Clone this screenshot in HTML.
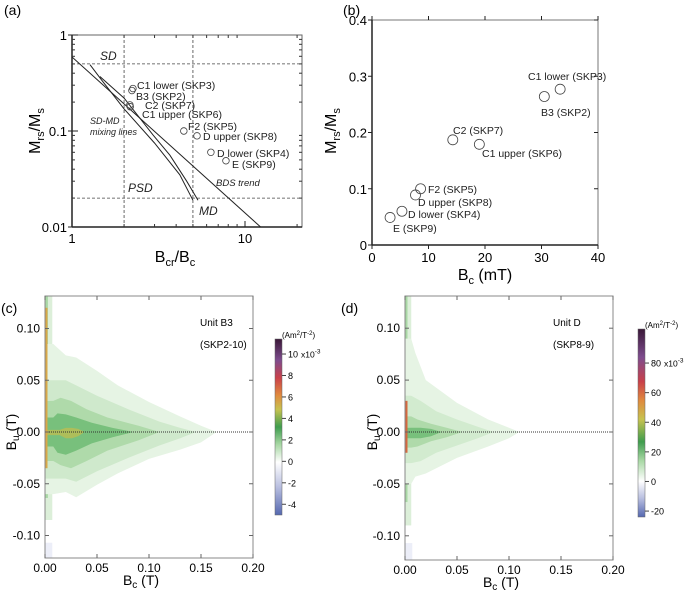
<!DOCTYPE html>
<html><head><meta charset="utf-8">
<style>
html,body{margin:0;padding:0;background:#fff;}
svg{display:block;font-family:"Liberation Sans",sans-serif;}
</style></head>
<body>
<svg id="fig" width="685" height="592" viewBox="0 0 685 592">
<defs>
<linearGradient id="cbarc" x1="0" y1="1" x2="0" y2="0">
<stop offset="0" stop-color="#5568b0"/>
<stop offset="0.16" stop-color="#b9bfe0"/>
<stop offset="0.30" stop-color="#ffffff"/>
<stop offset="0.40" stop-color="#a8d8a4"/>
<stop offset="0.50" stop-color="#3f9d4e"/>
<stop offset="0.60" stop-color="#c7c24f"/>
<stop offset="0.68" stop-color="#e08a3e"/>
<stop offset="0.78" stop-color="#c9404a"/>
<stop offset="0.88" stop-color="#7e4c8e"/>
<stop offset="1" stop-color="#3a1838"/>
</linearGradient>
<linearGradient id="cbard" x1="0" y1="1" x2="0" y2="0">
<stop offset="0" stop-color="#5568b0"/>
<stop offset="0.10" stop-color="#b9bfe0"/>
<stop offset="0.19" stop-color="#ffffff"/>
<stop offset="0.30" stop-color="#a8d8a4"/>
<stop offset="0.40" stop-color="#3f9d4e"/>
<stop offset="0.52" stop-color="#c7c24f"/>
<stop offset="0.62" stop-color="#e08a3e"/>
<stop offset="0.72" stop-color="#c9404a"/>
<stop offset="0.85" stop-color="#7e4c8e"/>
<stop offset="1" stop-color="#3a1838"/>
</linearGradient>
</defs>
<g id="pa"></g><g id="pb"></g><g id="pc"></g><g id="pd"></g>
</svg>
<script>
// ---------- data ----------
const sampleNames = ["C1 lower (SKP3)","B3 (SKP2)","C2 (SKP7)","C1 upper (SKP6)","F2 (SKP5)","D upper (SKP8)","D lower (SKP4)","E (SKP9)"];
const bcrBc = [2.25,2.22,2.16,2.17,4.43,5.28,6.35,7.76];
const mrsMs = [0.277,0.264,0.187,0.179,0.100,0.089,0.060,0.049];
const bcMt = [33.3,30.5,14.3,19.0,8.6,7.7,5.3,3.2];
const bdsX = [1.0,12.3];
const bdsY = [0.59,0.01];
const mix1X = [1.27,1.5,2.0,3.0,4.2,5.0];
const mix1Y = [0.49,0.33,0.17,0.075,0.035,0.019];
const mix2X = [1.45,2.0,2.94,3.68,4.6,5.35];
const mix2Y = [0.37,0.22,0.091,0.056,0.03,0.019];
const xTicksA = [1,10];
const yTicksA = [1,0.1,0.01];
const xTicksB = [0,10,20,30,40];
const yTicksB = [0,0.1,0.2,0.3,0.4];
const forcTicksX = [0,0.05,0.10,0.15,0.20];
const forcTicksY = [-0.10,-0.05,0,0.05,0.10];
// FORC contour bands (c)
const cBc = [[0.008,0.02,0.03,0.05,0.07,0.1,0.13,0.15,0.165],[0.008,0.02,0.03,0.05,0.08,0.11,0.13,0.145],[0.008,0.015,0.025,0.04,0.06,0.09,0.11],[0.008,0.012,0.02,0.03,0.045,0.065,0.085],[0.014,0.02,0.026,0.032,0.038]];
const cUp = [[0.085,0.074,0.072,0.059,0.045,0.029,0.015,0.006,0],[0.05,0.05,0.045,0.035,0.022,0.01,0.004,0],[0.03,0.033,0.03,0.022,0.014,0.006,0],[0.014,0.018,0.017,0.014,0.009,0.004,0],[0.002,0.004,0.004,0.003,0]];
const cLo = [[-0.06,-0.058,-0.063,-0.051,-0.04,-0.026,-0.017,-0.01,0],[-0.045,-0.045,-0.048,-0.038,-0.025,-0.013,-0.006,0],[-0.028,-0.032,-0.035,-0.028,-0.018,-0.008,0],[-0.014,-0.02,-0.022,-0.018,-0.011,-0.005,0],[-0.003,-0.006,-0.006,-0.004,0]];
const cLevels = [0.6,1.3,2.0,3.0,4.6];
// FORC contour bands (d)
const dBc = [[0.006,0.01,0.02,0.05,0.08,0.1,0.11],[0.006,0.015,0.03,0.05,0.07,0.085],[0.006,0.012,0.025,0.04,0.055],[0.006,0.015,0.025,0.035]];
const dUp = [[0.09,0.076,0.05,0.028,0.012,0.004,0],[0.035,0.03,0.02,0.012,0.005,0],[0.015,0.012,0.008,0.004,0],[0.004,0.004,0.003,0]];
const dLo = [[-0.05,-0.043,-0.04,-0.025,-0.014,-0.006,0],[-0.03,-0.028,-0.02,-0.013,-0.006,0],[-0.015,-0.014,-0.009,-0.005,0],[-0.006,-0.006,-0.004,0]];
const dLevels = [3,6,10,15];
const cbarTicksC = [-4,-2,0,2,4,6,8,10];
const cbarTicksD = [-20,0,20,40,60,80];

// ---------- helpers ----------
const NS="http://www.w3.org/2000/svg";
function mk(parent,tag,attrs,text){const e=document.createElementNS(NS,tag);for(const k in attrs)e.setAttribute(k,attrs[k]);if(text!==undefined)e.textContent=text;parent.appendChild(e);return e;}
function colC(v){
  const stops=[[0,[255,255,255]],[0.6,[230,244,228]],[1.3,[207,233,204]],[2,[175,218,170]],[3,[120,192,124]],[4,[95,175,90]],[4.8,[200,195,90]],[6,[224,138,62]]];
  for(let i=1;i<stops.length;i++){if(v<=stops[i][0]){const a=stops[i-1],b=stops[i],t=(v-a[0])/(b[0]-a[0]);return "rgb("+a[1].map((c,j)=>Math.round(c+(b[1][j]-c)*t)).join(",")+")";}}
  return "rgb(224,138,62)";
}

// ---------- panel (a) ----------
(function(){
const g=document.getElementById('pa');
const L=72,R=302,T=35,B=227;
const xa=v=>L+173*Math.log10(v), ya=v=>T-96*Math.log10(v);
let e=mk(g,'text',{x:4,y:15,'font-size':14},'(a)');
[[xa(2),T,xa(2),B],[xa(5),T,xa(5),B],[L,ya(0.5),R,ya(0.5)],[L,ya(0.02),R,ya(0.02)]].forEach(p=>{
 e=mk(g,'line',{x1:p[0],y1:p[1],x2:p[2],y2:p[3],stroke:'#444','stroke-width':0.8,'stroke-dasharray':'3,2'});
 });
e=mk(g,'rect',{x:L,y:T,width:R-L,height:B-T,fill:'none',stroke:'#666','stroke-width':1});

mk(g,'line',{x1:L,y1:T,x2:L,y2:B,stroke:'#222','stroke-width':1.5});
mk(g,'line',{x1:L,y1:B,x2:R,y2:B,stroke:'#222','stroke-width':1.5});
[2,3,4,5,6,7,8,9,20].forEach(v=>{mk(g,'line',{x1:xa(v),y1:B,x2:xa(v),y2:B-3,stroke:'#333'});mk(g,'line',{x1:xa(v),y1:T,x2:xa(v),y2:T+3,stroke:'#333'});});
[0.02,0.03,0.04,0.05,0.06,0.07,0.08,0.09,0.2,0.3,0.4,0.5,0.6,0.7,0.8,0.9].forEach(v=>{mk(g,'line',{x1:L,y1:ya(v),x2:L+3,y2:ya(v),stroke:'#333'});mk(g,'line',{x1:R,y1:ya(v),x2:R-3,y2:ya(v),stroke:'#333'});});
xTicksA.forEach(v=>{mk(g,'line',{x1:xa(v),y1:B,x2:xa(v),y2:B-6,stroke:'#222'});
 e=mk(g,'text',{x:xa(v),y:B+16,'font-size':13,'text-anchor':'middle'},String(v));});
yTicksA.forEach(v=>{mk(g,'line',{x1:L,y1:ya(v),x2:L+6,y2:ya(v),stroke:'#222'});mk(g,'line',{x1:L-4,y1:ya(v),x2:L,y2:ya(v),stroke:'#222'});
 e=mk(g,'text',{x:L-5,y:ya(v)+5,'font-size':13,'text-anchor':'end'},String(v));});
const cp=mk(g,'clipPath',{id:'clipA'});mk(cp,'rect',{x:L,y:T,width:R-L,height:B-T});
function pl(xs,ys,name){const p=xs.map((x,i)=>xa(x).toFixed(1)+','+ya(ys[i]).toFixed(1)).join(' ');
 const el=mk(g,'polyline',{points:p,fill:'none',stroke:'#222','stroke-width':1,'clip-path':'url(#clipA)'});}
pl(bdsX,bdsY,'bds-trend-line');pl(mix1X,mix1Y,'sd-md-mixing-line-1');pl(mix2X,mix2Y,'sd-md-mixing-line-2');
bcrBc.forEach((x,i)=>{e=mk(g,'circle',{cx:xa(x),cy:ya(mrsMs[i]),r:3.3,fill:'none',stroke:'#444','stroke-width':0.8});});
const lab=[[137,89],[136,100],[145,109],[142,118],[188,130],[203,140],[217,157],[232,168]];
sampleNames.forEach((n,i)=>{e=mk(g,'text',{x:lab[i][0],y:lab[i][1],'font-size':10.5,fill:'#222'},n);});
[["SD",100,60,12],["PSD",128,192,12],["MD",199,215,12],["SD-MD",90,124,9],["mixing lines",90,135,9],["BDS trend",216,186,9.5]].forEach(t=>{
 e=mk(g,'text',{x:t[1],y:t[2],'font-size':t[3],'font-style':'italic',fill:'#222'},t[0]);});
e=mk(g,'text',{x:0,y:0,'font-size':16,'text-anchor':'middle',transform:'translate(40,131) rotate(-90)'});
e.innerHTML='M<tspan font-size="11" dy="4">rs</tspan><tspan dy="-4">/M</tspan><tspan font-size="11" dy="4">s</tspan>';
e=mk(g,'text',{x:175,y:262,'font-size':16,'text-anchor':'middle'});
e.innerHTML='B<tspan font-size="11" dy="4">cr</tspan><tspan dy="-4">/B</tspan><tspan font-size="11" dy="4">c</tspan>';
})();

// ---------- panel (b) ----------
(function(){
const g=document.getElementById('pb');
const L=372,R=598,T=20,B=245;
const xb=v=>L+(R-L)*v/40, yb=v=>B-(B-T)*v/0.4;
let e=mk(g,'text',{x:343,y:15,'font-size':14},'(b)');
e=mk(g,'rect',{x:L,y:T,width:R-L,height:B-T,fill:'none',stroke:'#777','stroke-width':1});
mk(g,'line',{x1:L,y1:T,x2:L,y2:B,stroke:'#222','stroke-width':1.5});mk(g,'line',{x1:L,y1:B,x2:R,y2:B,stroke:'#222','stroke-width':1.5});
xTicksB.forEach(v=>{mk(g,'line',{x1:xb(v),y1:B,x2:xb(v),y2:B+4,stroke:'#222'});mk(g,'line',{x1:xb(v),y1:T,x2:xb(v),y2:T-4,stroke:'#222'});
 e=mk(g,'text',{x:xb(v),y:B+17,'font-size':13,'text-anchor':'middle'},String(v));});
yTicksB.forEach(v=>{mk(g,'line',{x1:L-4,y1:yb(v),x2:L,y2:yb(v),stroke:'#222'});mk(g,'line',{x1:R,y1:yb(v),x2:R-4,y2:yb(v),stroke:'#222'});
 e=mk(g,'text',{x:L-5,y:yb(v)+5,'font-size':13,'text-anchor':'end'},String(v));});
bcMt.forEach((x,i)=>{e=mk(g,'circle',{cx:xb(x),cy:yb(mrsMs[i]),r:5,fill:'none',stroke:'#444','stroke-width':0.8});});
const lab=[[528,80],[541,116],[453,134],[482,157],[428,193],[418,206],[408,218],[393,232]];
sampleNames.forEach((n,i)=>{e=mk(g,'text',{x:lab[i][0],y:lab[i][1],'font-size':10.5,fill:'#222'},n);});
e=mk(g,'text',{x:0,y:0,'font-size':16,'text-anchor':'middle',transform:'translate(336,131) rotate(-90)'});
e.innerHTML='M<tspan font-size="11" dy="4">rs</tspan><tspan dy="-4">/M</tspan><tspan font-size="11" dy="4">s</tspan>';
e=mk(g,'text',{x:485,y:280,'font-size':16,'text-anchor':'middle'});
e.innerHTML='B<tspan font-size="11" dy="4">c</tspan><tspan dy="-4"> (mT)</tspan>';
})();

// ---------- FORC panels ----------
function forc(gid,o){
const g=document.getElementById(gid);
const {L,R,T,B,y0,ppt}=o;
const xf=v=>L+(R-L)*v/0.2, yf=v=>y0-ppt*v;
let e=mk(g,'text',{x:o.lx,y:o.ly,'font-size':14},o.label);
const cid='clip'+o.id;const cp=mk(g,'clipPath',{id:cid});mk(cp,'rect',{x:L,y:T,width:R-L,height:B-T});
const gg=mk(g,'g',{'clip-path':'url(#'+cid+')'});
e=mk(gg,'rect',{x:xf(0),y:T,width:xf(o.stripW)-xf(0),height:yf(o.stripBot)-T,fill:'#dcefd9'});
e=mk(gg,'rect',{x:xf(0),y:T,width:xf(o.stripW*0.4)-xf(0),height:yf(o.stripBot*0.75)-T,fill:'#a9d8a5'});
o.bc.forEach((bc,k)=>{
 let d='M'+xf(0)+','+yf(o.up[k][0]);
 bc.forEach((x,i)=>{d+=' L'+xf(x).toFixed(1)+','+yf(o.up[k][i]).toFixed(1);});
 for(let i=bc.length-1;i>=0;i--){d+=' L'+xf(bc[i]).toFixed(1)+','+yf(o.lo[k][i]).toFixed(1);}
 d+=' L'+xf(0)+','+yf(o.lo[k][0])+' Z';
 const p=mk(gg,'path',{d:d,fill:o.col(o.lev[k])});
});
e=mk(gg,'rect',{x:xf(0.0004),y:yf(o.ridgeTop),width:xf(0.002)-xf(0),height:yf(o.ridgeBot)-yf(o.ridgeTop),fill:o.ridgeCol});
e=mk(gg,'rect',{x:xf(0),y:yf(-0.107),width:xf(0.007)-xf(0),height:B-yf(-0.107),fill:'#eceef8'});
e=mk(g,'line',{x1:L,y1:yf(0),x2:R,y2:yf(0),stroke:'#333','stroke-width':1,'stroke-dasharray':'1,1'});
e=mk(g,'rect',{x:L,y:T,width:R-L,height:B-T,fill:'none',stroke:'#888','stroke-width':1});
forcTicksX.forEach(v=>{mk(g,'line',{x1:xf(v),y1:B,x2:xf(v),y2:B-4,stroke:'#666'});mk(g,'line',{x1:xf(v),y1:T,x2:xf(v),y2:T+4,stroke:'#666'});
 e=mk(g,'text',{x:xf(v),y:B+14,'font-size':12,'text-anchor':'middle'},v.toFixed(2));});
forcTicksY.forEach(v=>{mk(g,'line',{x1:L,y1:yf(v),x2:L+4,y2:yf(v),stroke:'#666'});mk(g,'line',{x1:R,y1:yf(v),x2:R-4,y2:yf(v),stroke:'#666'});
 e=mk(g,'text',{x:L-5,y:yf(v)+4,'font-size':12,'text-anchor':'end'},v.toFixed(2));});
e=mk(g,'text',{x:o.ux,y:o.uy,'font-size':10},o.unit);
e=mk(g,'text',{x:o.ux,y:o.uy+22,'font-size':10},o.sample);
e=mk(g,'text',{x:0,y:0,'font-size':14,'text-anchor':'middle',transform:'translate('+o.ytx+','+y0+') rotate(-90)'});
e.innerHTML='B<tspan font-size="10" dy="3">u</tspan><tspan dy="-3"> (T)</tspan>';
e=mk(g,'text',{x:(L+R)/2-8,y:B+27,'font-size':14,'text-anchor':'middle'});
e.innerHTML='B<tspan font-size="10" dy="3">c</tspan><tspan dy="-3"> (T)</tspan>';
const cb=o.cb;
e=mk(g,'rect',{x:cb.x,y:cb.top,width:7,height:cb.bot-cb.top,fill:'url(#'+cb.grad+')',stroke:'#666','stroke-width':0.5});
const yc=v=>cb.bot-(cb.bot-cb.top)*(v-cb.min)/(cb.max-cb.min);
cb.ticks.forEach((v,i)=>{mk(g,'line',{x1:cb.x+7,y1:yc(v),x2:cb.x+11,y2:yc(v),stroke:'#444'});
 e=mk(g,'text',{x:cb.x+13,y:yc(v)+3.5,'font-size':9},String(v));
 if(i===cb.ticks.length-1){const s=mk(g,'text',{x:cb.x+13+(String(v).length*5)+3,y:yc(v)+3.5,'font-size':8.5});s.innerHTML='x10<tspan font-size="6.5" dy="-4">-3</tspan>';}
});
e=mk(g,'text',{x:cb.x+7,y:cb.top-1,'font-size':8});
e.innerHTML='(Am<tspan font-size="6" dy="-3">2</tspan><tspan dy="3">/T</tspan><tspan font-size="6" dy="-3">-2</tspan><tspan dy="3">)</tspan>';
}
forc('pc',{id:'c',label:'(c)',lx:1,ly:313,L:45,R:253,T:296,B:558,y0:432,ppt:1035,bc:cBc,up:cUp,lo:cLo,lev:cLevels,col:colC,
 stripW:0.007,stripBot:-0.085,ridgeTop:0.12,ridgeBot:-0.035,ridgeCol:'#d9a848',ux:200,uy:326,unit:'Unit B3',sample:'(SKP2-10)',ytx:16,
 cb:{x:275,top:339,bot:515,min:-5,max:11.4,ticks:cbarTicksC,grad:'cbarc'}});
forc('pd',{id:'d',label:'(d)',lx:341,ly:313,L:405,R:613,T:296,B:560,y0:432,ppt:1038,bc:dBc,up:dUp,lo:dLo,lev:dLevels,
 col:v=>colC(v/5),stripW:0.006,stripBot:-0.09,ridgeTop:0.03,ridgeBot:-0.02,ridgeCol:'#d4683f',ux:553,uy:326,unit:'Unit D',sample:'(SKP8-9)',ytx:377,
 cb:{x:638,top:329,bot:517,min:-24,max:103,ticks:cbarTicksD,grad:'cbard'}});
</script>
</body></html>
